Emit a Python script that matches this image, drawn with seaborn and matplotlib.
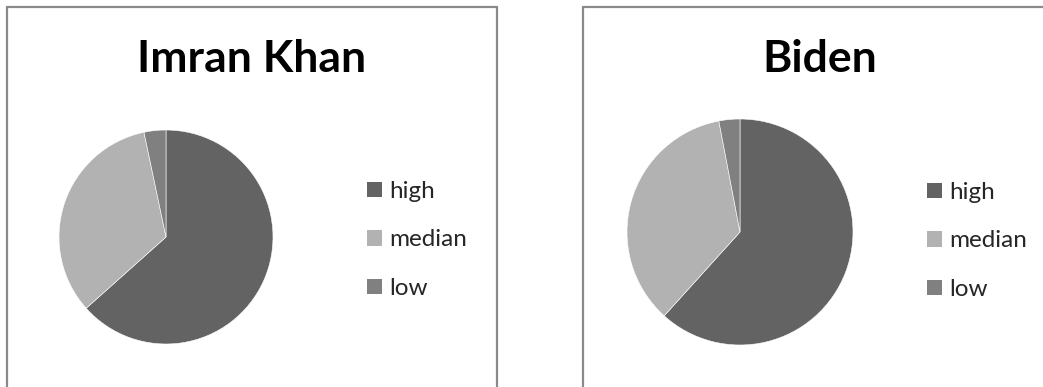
import matplotlib
matplotlib.use("Agg")
import matplotlib.pyplot as plt
from matplotlib.patches import Rectangle, Patch
import seaborn as sns

# Share of responses per level for each leader
categories = ["high", "median", "low"]
imran_khan_share = [63.4, 33.3, 3.3]
biden_share = [61.7, 35.3, 3.0]
titles = ["Imran Khan", "Biden"]

sns.set_theme(style="white")
plt.rcParams["font.family"] = ["Lato", "DejaVu Sans"]

palette = sns.color_palette(["#636363", "#b2b2b2", "#808080"])

W, H = 1043, 387
fig = plt.figure(figsize=(W / 100, H / 100), dpi=100)
fig.patch.set_facecolor("white")


def fx(px):
    return px / W


def fy(py):
    return 1 - py / H


# panel layout in pixels
panels = [
    dict(left=6.5, right=497, cx=166, cy=237, r=107, tx=252, lx=367, ly=240),
    dict(left=583, right=1072, cx=740, cy=232, r=113, tx=820, lx=927, ly=241),
]

for values, title, p in zip([imran_khan_share, biden_share], titles, panels):
    # framed chart area
    fig.add_artist(Rectangle((fx(p["left"]), fy(420)), fx(p["right"] - p["left"]),
                             (420 - 7) / H, transform=fig.transFigure,
                             fill=False, edgecolor="#8a8a8a", linewidth=1.6))

    ax = fig.add_axes([fx(p["cx"] - p["r"]), fy(p["cy"] + p["r"]),
                       fx(2 * p["r"]), 2 * p["r"] / H])
    wedges, _ = ax.pie(values, colors=palette, startangle=90, counterclock=False,
                       radius=1, wedgeprops=dict(edgecolor="white", linewidth=0.4))
    ax.set_xlim(-1, 1)
    ax.set_ylim(-1, 1)
    ax.set_aspect("equal")
    ax.axis("off")

    fig.text(fx(p["tx"]), fy(72.5), title, ha="center", va="baseline",
             fontsize=32, fontweight="bold", color="black")

    handles = [Patch(facecolor=c, edgecolor="none") for c in palette]
    fig.legend(handles, categories, loc="center left",
               bbox_to_anchor=(fx(p["lx"]), fy(p["ly"])),
               frameon=False, fontsize=17.5, handlelength=0.62, handleheight=0.62,
               handletextpad=0.3, labelspacing=1.13, borderpad=0, borderaxespad=0)

fig.savefig("out.png", dpi=100, facecolor="white")
